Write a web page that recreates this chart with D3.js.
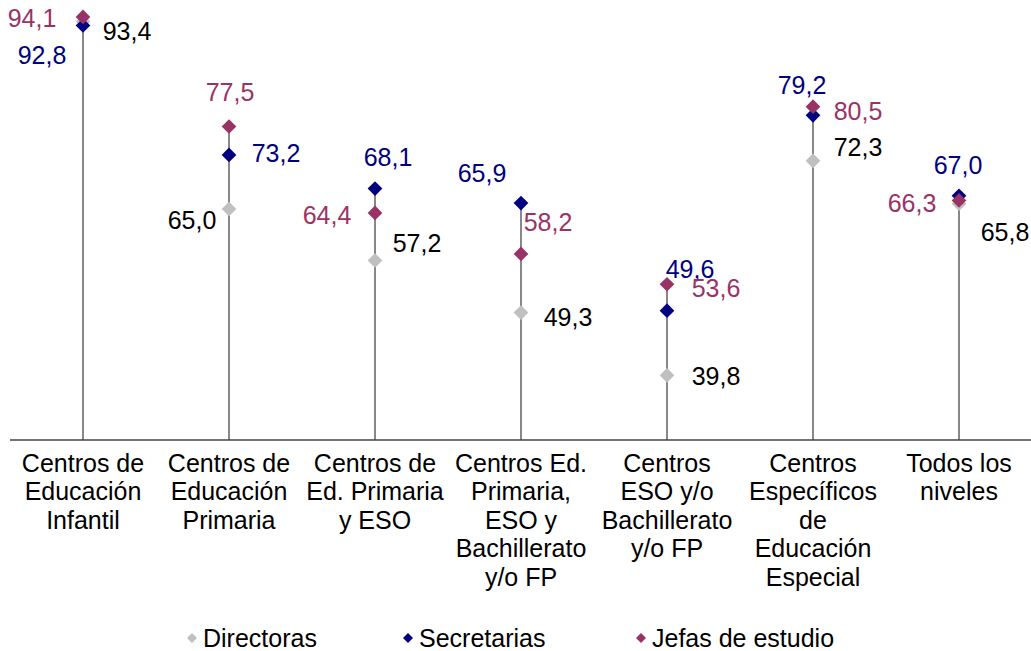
<!DOCTYPE html>
<html>
<head>
<meta charset="utf-8">
<script src="https://cdn.jsdelivr.net/npm/d3@7"></script>
<style>
  body { margin: 0; background: #fff; }
  svg { font-family: "Liberation Sans", Arial, sans-serif; }
</style>
</head>
<body>
<div id="vis"></div>
<script>
const WIDTH = 1031;
const HEIGHT = 651;

// categories (one line of the axis label per entry)
const categories = [
  ["Centros de", "Educación", "Infantil"],
  ["Centros de", "Educación", "Primaria"],
  ["Centros de", "Ed. Primaria", "y ESO"],
  ["Centros Ed.", "Primaria,", "ESO y", "Bachillerato", "y/o FP"],
  ["Centros", "ESO y/o", "Bachillerato", "y/o FP"],
  ["Centros", "Específicos", "de", "Educación", "Especial"],
  ["Todos los", "niveles"]
];

const seriesNames = ["Directoras", "Secretarias", "Jefas de estudio"];
const directoras  = [93.4, 65.0, 57.2, 49.3, 39.8, 72.3, 65.8];
const secretarias = [92.8, 73.2, 68.1, 65.9, 49.6, 79.2, 67.0];
const jefas       = [94.1, 77.5, 64.4, 58.2, 53.6, 80.5, 66.3];

// colours per series: marker, label text
const markerColors = ["#c0c0c0", "#000080", "#993366"];
const textColors   = ["#000000", "#000080", "#993366"];

// label placement relative to its marker [dx, dy], per series then category
const labelOffsets = [
  [[44, 10], [-37, 11], [42, -17], [47, 5], [49, 1], [45, -14], [46, 29]],
  [[-41, 30], [47, -2], [13, -31], [-39, -30], [23, -41], [-11, -30], [-1, -31]],
  [[-51, 1], [1, -34], [-48, 2], [27, -32], [49, 4], [45, 5], [-47, 3]]
];

const allSeries = [directoras, secretarias, jefas];
const catKeys = categories.map((c, i) => i);

const svg = d3.select("#vis")
  .append("svg")
    .attr("width", WIDTH)
    .attr("height", HEIGHT);

const X_SCALE = d3.scaleBand()
  .domain(catKeys)
  .range([10, 1032])
  .padding(0);

// baseline sits at 30, about 6.6 px per unit
const Y_SCALE = d3.scaleLinear()
  .domain([30, 100])
  .range([440, 440 - 70 * 6.6]);

const cx = (i) => X_SCALE(i) + X_SCALE.bandwidth() / 2;

const locale = d3.formatLocale({decimal: ",", thousands: ".", grouping: [3], currency: ["", "€"]});
const fmt = locale.format(".1f");

// vertical stems from baseline to the highest marker
svg.append("g")
  .selectAll("line")
  .data(catKeys)
  .enter()
  .append("line")
    .attr("x1", (d) => cx(d))
    .attr("x2", (d) => cx(d))
    .attr("y1", Y_SCALE(30))
    .attr("y2", (d) => Y_SCALE(d3.max(allSeries, (s) => s[d])))
    .attr("stroke", "#111")
    .attr("stroke-width", 1);

// x axis line
svg.append("line")
  .attr("x1", 10)
  .attr("x2", WIDTH)
  .attr("y1", Y_SCALE(30))
  .attr("y2", Y_SCALE(30))
  .attr("stroke", "#444")
  .attr("stroke-width", 1.5);

const diamond = d3.symbol().type(d3.symbolSquare).size(108);
const smallDiamond = d3.symbol().type(d3.symbolSquare).size(50);

// markers
allSeries.forEach((vals, s) => {
  svg.append("g")
    .selectAll("path")
    .data(vals)
    .enter()
    .append("path")
      .attr("d", diamond)
      .attr("transform", (d, i) => "translate(" + cx(i) + "," + Y_SCALE(d) + ") rotate(45)")
      .attr("fill", markerColors[s]);
});

// value labels
allSeries.forEach((vals, s) => {
  svg.append("g")
    .selectAll("text")
    .data(vals)
    .enter()
    .append("text")
      .attr("x", (d, i) => cx(i) + labelOffsets[s][i][0])
      .attr("y", (d, i) => Y_SCALE(d) + labelOffsets[s][i][1])
      .attr("dy", "0.35em")
      .attr("text-anchor", "middle")
      .attr("font-size", "25px")
      .attr("fill", textColors[s])
      .text((d) => fmt(d));
});

// category labels
const catLabels = svg.append("g")
  .selectAll("text")
  .data(categories)
  .enter()
  .append("text")
    .attr("x", (d, i) => cx(i))
    .attr("y", 463)
    .attr("text-anchor", "middle")
    .attr("font-size", "25px")
    .attr("fill", "#000");

catLabels.selectAll("tspan")
  .data((d, i) => d.map((t) => ({t: t, i: i})))
  .enter()
  .append("tspan")
    .attr("x", (d) => cx(d.i))
    .attr("dy", (d, j) => j === 0 ? "0.35em" : "28.5px")
    .text((d) => d.t);

// legend
const legendX = [192, 408, 641];
const legend = svg.append("g")
  .selectAll("g")
  .data(seriesNames)
  .enter()
  .append("g")
    .attr("transform", (d, i) => "translate(" + legendX[i] + ",638)");

legend.append("path")
  .attr("d", smallDiamond)
  .attr("transform", "rotate(45)")
  .attr("fill", (d, i) => markerColors[i]);

legend.append("text")
  .attr("x", 11)
  .attr("dy", "0.35em")
  .attr("font-size", "25px")
  .attr("fill", "#000")
  .text((d) => d);
</script>
</body>
</html>
